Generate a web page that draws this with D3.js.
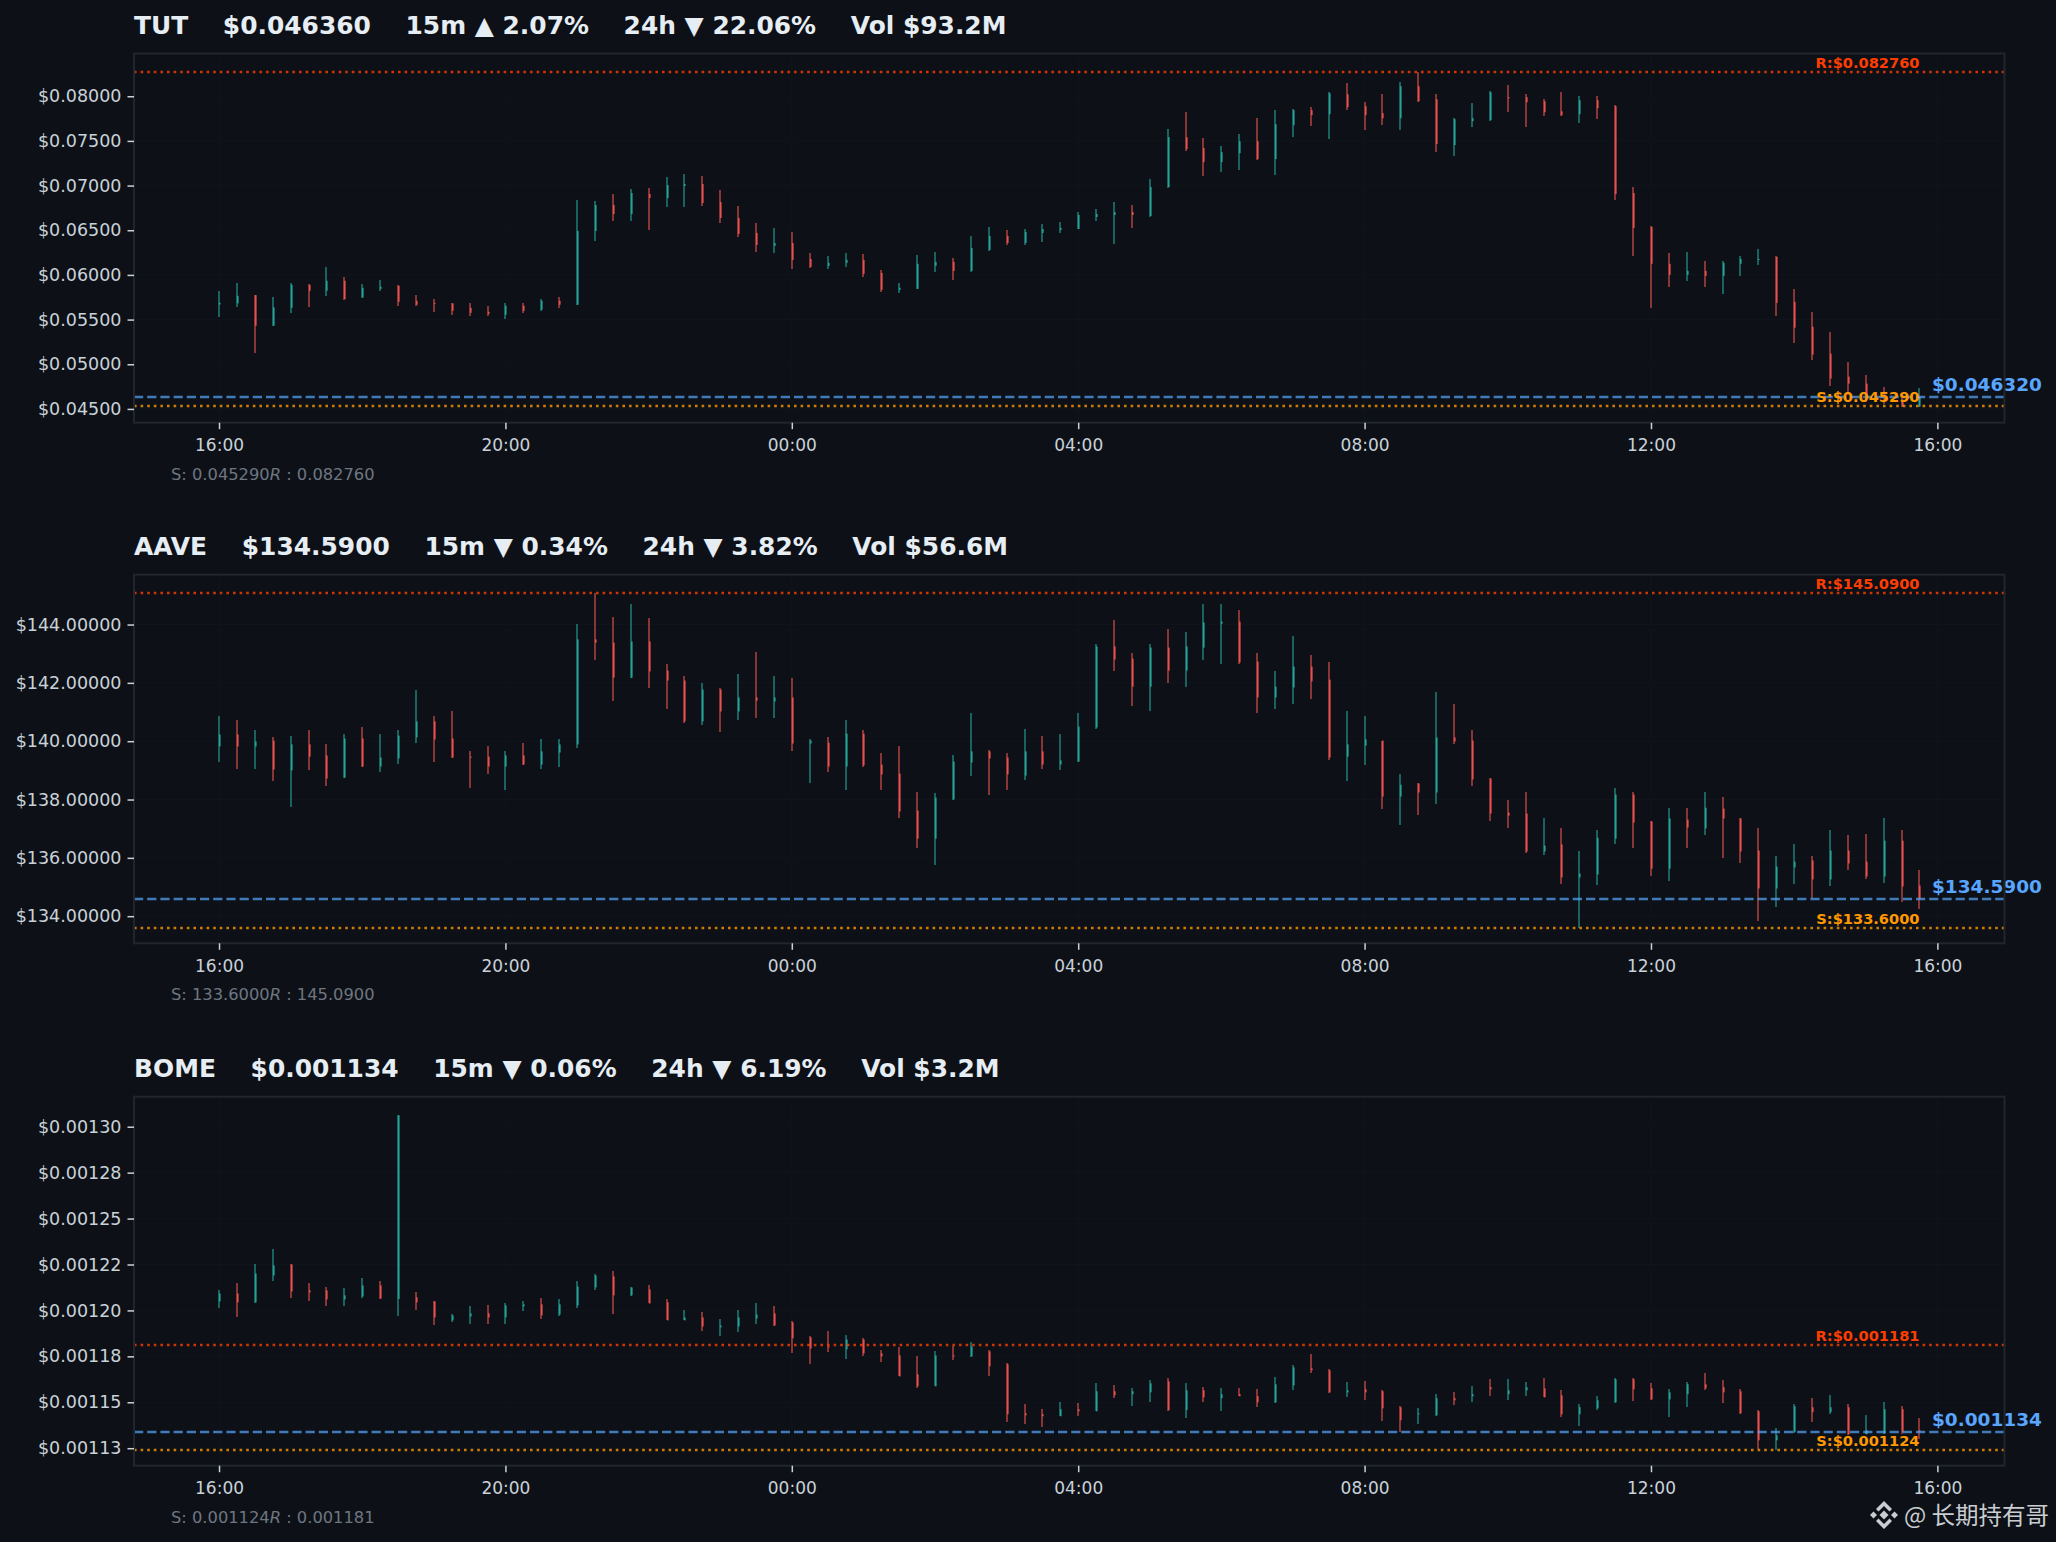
<!DOCTYPE html>
<html>
<head>
<meta charset="utf-8">
<style>
  html, body { margin: 0; padding: 0; background: #0d1117; }
  svg { display: block; }
  text { font-family: "DejaVu Sans", sans-serif; white-space: pre; }
</style>
<script src="https://cdn.jsdelivr.net/npm/d3@7"></script>
</head>
<body>
<div id="chart"></div>
<script>
// 15m candles, 96 per panel
const tutOpen = [0.05669,0.05681,0.05774,0.05431,0.05632,0.05889,0.05822,0.05934,0.05748,0.05844,0.05878,0.05710,0.05684,0.05681,0.05632,0.05587,0.05554,0.05654,0.05610,0.05710,0.05666,0.06492,0.06783,0.06682,0.06905,0.06861,0.06995,0.07017,0.06816,0.06637,0.06470,0.06325,0.06358,0.06179,0.06101,0.06135,0.06168,0.06023,0.05833,0.05844,0.06101,0.06146,0.06045,0.06280,0.06436,0.06358,0.06470,0.06503,0.06514,0.06648,0.06671,0.06704,0.06660,0.06984,0.07542,0.07419,0.07263,0.07363,0.07497,0.07296,0.07676,0.07844,0.07799,0.08022,0.07888,0.07810,0.07754,0.08112,0.07966,0.07453,0.07721,0.07732,0.07989,0.07989,0.07944,0.07832,0.07799,0.07955,0.07888,0.06917,0.06537,0.06124,0.06001,0.06045,0.05990,0.06124,0.06168,0.06202,0.05699,0.05420,0.05118,0.04861,0.04783,0.04660,0.04605,0.04526];
const tutHigh = [0.05822,0.05911,0.05774,0.05755,0.05911,0.05900,0.06090,0.05978,0.05900,0.05945,0.05889,0.05777,0.05733,0.05688,0.05688,0.05654,0.05688,0.05688,0.05733,0.05755,0.06838,0.06827,0.06905,0.06961,0.06972,0.07095,0.07129,0.07106,0.06950,0.06771,0.06581,0.06526,0.06481,0.06246,0.06213,0.06246,0.06235,0.06057,0.05911,0.06224,0.06258,0.06191,0.06436,0.06537,0.06503,0.06514,0.06570,0.06593,0.06704,0.06738,0.06816,0.06783,0.07073,0.07631,0.07821,0.07531,0.07441,0.07575,0.07754,0.07844,0.07855,0.07877,0.08045,0.08145,0.07933,0.08022,0.08156,0.08276,0.08022,0.07754,0.07922,0.08056,0.08123,0.08022,0.07966,0.08045,0.08000,0.08000,0.07899,0.06984,0.06548,0.06246,0.06258,0.06157,0.06157,0.06213,0.06291,0.06213,0.05844,0.05587,0.05364,0.05029,0.04884,0.04750,0.04649,0.04739];
const tutLow = [0.05532,0.05643,0.05122,0.05431,0.05576,0.05643,0.05766,0.05721,0.05744,0.05822,0.05654,0.05654,0.05587,0.05554,0.05543,0.05543,0.05509,0.05576,0.05599,0.05632,0.05666,0.06380,0.06604,0.06604,0.06503,0.06760,0.06760,0.06771,0.06581,0.06425,0.06258,0.06246,0.06068,0.06079,0.06068,0.06090,0.05978,0.05811,0.05800,0.05844,0.06034,0.05945,0.06034,0.06269,0.06336,0.06336,0.06369,0.06470,0.06514,0.06604,0.06347,0.06526,0.06648,0.06972,0.07386,0.07106,0.07151,0.07173,0.07285,0.07118,0.07542,0.07665,0.07520,0.07844,0.07620,0.07676,0.07620,0.07933,0.07374,0.07330,0.07654,0.07721,0.07821,0.07654,0.07777,0.07777,0.07698,0.07743,0.06838,0.06213,0.05632,0.05867,0.05934,0.05867,0.05788,0.05990,0.06112,0.05543,0.05241,0.05051,0.04761,0.04660,0.04575,0.04556,0.04519,0.04526];
const tutClose = [0.05688,0.05766,0.05431,0.05636,0.05889,0.05822,0.05934,0.05729,0.05856,0.05867,0.05699,0.05666,0.05673,0.05599,0.05576,0.05565,0.05654,0.05599,0.05710,0.05666,0.06492,0.06783,0.06682,0.06917,0.06861,0.07006,0.07017,0.06805,0.06637,0.06459,0.06336,0.06358,0.06168,0.06090,0.06135,0.06168,0.06012,0.05833,0.05856,0.06124,0.06146,0.06045,0.06302,0.06436,0.06358,0.06481,0.06514,0.06526,0.06671,0.06682,0.06704,0.06671,0.06984,0.07542,0.07408,0.07263,0.07374,0.07497,0.07296,0.07687,0.07844,0.07788,0.08033,0.07877,0.07788,0.07754,0.08112,0.07944,0.07464,0.07743,0.07754,0.08045,0.07978,0.07933,0.07821,0.07788,0.07955,0.07866,0.06905,0.06526,0.06124,0.06001,0.06045,0.05990,0.06135,0.06179,0.06179,0.05688,0.05409,0.05107,0.04839,0.04783,0.04660,0.04593,0.04526,0.04632];

const aaveOpen = [139.82,140.23,139.82,140.02,139.00,139.89,139.51,138.75,140.09,139.13,139.41,140.13,140.68,140.09,139.47,139.47,139.13,139.51,139.20,139.61,139.89,143.49,143.38,142.18,143.42,142.42,142.08,140.68,141.77,141.02,141.50,141.36,141.50,139.92,139.95,139.13,140.26,139.20,138.89,137.62,136.66,138.00,139.27,139.65,139.44,138.82,139.65,139.20,139.30,140.47,143.25,142.83,141.87,143.21,142.42,143.21,144.03,144.10,142.73,141.50,141.84,142.56,142.11,139.47,139.85,140.02,138.10,138.55,138.24,140.13,140.02,138.72,137.55,137.52,136.22,136.46,135.33,135.43,136.66,138.17,137.25,135.63,137.31,137.01,137.69,137.35,136.25,134.95,135.67,135.91,135.26,136.25,135.87,135.36,136.59,135.05];
const aaveHigh = [140.85,140.74,140.37,140.16,140.19,140.37,139.92,140.23,140.50,140.26,140.40,141.77,140.88,141.02,139.65,139.85,139.68,139.95,140.09,140.06,144.03,145.09,144.27,144.69,144.24,142.63,142.25,141.98,141.84,142.32,143.07,142.25,142.15,140.06,140.16,140.74,140.40,139.58,139.82,138.27,138.24,139.51,140.95,139.71,139.61,140.43,140.19,140.23,140.95,143.32,144.17,143.01,143.32,143.86,143.76,144.69,144.72,144.51,143.04,142.42,143.62,142.94,142.73,141.02,140.88,140.02,138.86,138.55,141.67,141.26,140.37,138.75,138.00,138.27,137.35,137.04,136.22,136.97,138.38,138.27,137.28,137.72,137.72,138.27,138.07,137.38,137.01,136.05,136.49,136.05,136.94,136.77,136.83,137.38,136.94,135.57];
const aaveLow = [139.27,139.03,139.06,138.65,137.76,139.00,138.45,138.75,139.13,138.96,139.23,139.95,139.27,139.41,138.41,138.89,138.34,139.20,139.06,139.13,139.75,142.80,141.39,142.15,141.81,141.12,140.64,140.54,140.33,140.74,140.78,140.78,139.68,138.58,138.96,138.31,139.13,138.34,137.38,136.35,135.74,137.97,138.79,138.17,138.31,138.68,139.03,139.00,139.27,140.43,142.42,141.19,141.05,142.01,141.87,142.80,142.66,142.66,140.98,141.09,141.29,141.43,139.37,138.62,139.17,137.66,137.14,137.48,137.83,139.92,138.45,137.28,137.01,136.15,136.11,135.12,133.61,135.08,136.49,136.35,135.39,135.19,136.35,136.80,135.98,135.81,133.82,134.33,135.12,134.64,135.05,135.57,135.29,135.15,134.47,134.23];
const aaveClose = [140.23,139.82,139.99,139.03,139.89,139.47,138.72,140.09,139.13,139.44,140.19,140.68,140.06,139.44,139.44,139.13,139.51,139.20,139.65,139.89,143.49,143.38,142.18,143.42,142.39,142.08,140.68,141.77,141.02,141.50,141.39,141.50,139.92,140.02,139.13,140.26,139.17,138.86,137.59,136.66,138.07,139.30,139.65,139.41,138.86,139.65,139.20,139.34,140.50,143.25,142.80,141.87,143.21,142.42,143.25,144.07,144.10,142.70,141.50,141.87,142.56,142.05,139.44,139.89,140.06,138.10,138.51,138.24,140.13,139.99,138.69,137.52,137.45,136.22,136.42,135.33,135.46,136.69,138.17,137.21,135.63,137.35,137.04,137.72,137.35,136.22,134.95,135.70,135.87,135.26,136.25,135.81,135.36,136.59,135.02,134.59];

const bomeOpen = [0.0012049,0.0012092,0.0012044,0.0012190,0.0012250,0.0012109,0.0012109,0.0012060,0.0012076,0.0012136,0.0012062,0.0012071,0.0012049,0.0011946,0.0011967,0.0011984,0.0011962,0.0012022,0.0012033,0.0011978,0.0012027,0.0012125,0.0012185,0.0012082,0.0012114,0.0012044,0.0011946,0.0011962,0.0011908,0.0011913,0.0011956,0.0011984,0.0011935,0.0011853,0.0011804,0.0011788,0.0011842,0.0011766,0.0011755,0.0011652,0.0011587,0.0011755,0.0011750,0.0011777,0.0011707,0.0011440,0.0011435,0.0011424,0.0011462,0.0011451,0.0011560,0.0011544,0.0011554,0.0011614,0.0011457,0.0011565,0.0011522,0.0011544,0.0011533,0.0011500,0.0011592,0.0011685,0.0011674,0.0011554,0.0011571,0.0011560,0.0011473,0.0011435,0.0011429,0.0011522,0.0011533,0.0011582,0.0011544,0.0011565,0.0011576,0.0011538,0.0011435,0.0011467,0.0011500,0.0011625,0.0011576,0.0011516,0.0011544,0.0011598,0.0011582,0.0011560,0.0011451,0.0011293,0.0011337,0.0011473,0.0011446,0.0011473,0.0011326,0.0011330,0.0011462,0.0011347];
const bomeHigh = [0.0012109,0.0012152,0.0012255,0.0012337,0.0012255,0.0012152,0.0012125,0.0012120,0.0012179,0.0012158,0.0013065,0.0012098,0.0012054,0.0011978,0.0012022,0.0012027,0.0012038,0.0012049,0.0012065,0.0012060,0.0012158,0.0012196,0.0012212,0.0012130,0.0012141,0.0012060,0.0012000,0.0011989,0.0011951,0.0012000,0.0012038,0.0012022,0.0011940,0.0011859,0.0011886,0.0011864,0.0011848,0.0011783,0.0011799,0.0011750,0.0011777,0.0011804,0.0011826,0.0011783,0.0011712,0.0011489,0.0011462,0.0011500,0.0011495,0.0011603,0.0011592,0.0011576,0.0011620,0.0011630,0.0011603,0.0011582,0.0011576,0.0011576,0.0011571,0.0011636,0.0011701,0.0011761,0.0011679,0.0011609,0.0011614,0.0011565,0.0011478,0.0011467,0.0011544,0.0011554,0.0011587,0.0011625,0.0011625,0.0011609,0.0011630,0.0011565,0.0011489,0.0011533,0.0011630,0.0011630,0.0011603,0.0011571,0.0011609,0.0011658,0.0011620,0.0011571,0.0011457,0.0011359,0.0011489,0.0011522,0.0011538,0.0011489,0.0011429,0.0011500,0.0011478,0.0011413];
const bomeLow = [0.0012011,0.0011962,0.0012038,0.0012158,0.0012065,0.0012054,0.0012022,0.0012022,0.0012065,0.0012060,0.0011967,0.0012005,0.0011918,0.0011935,0.0011924,0.0011924,0.0011924,0.0011995,0.0011951,0.0011967,0.0012011,0.0012109,0.0011978,0.0012076,0.0012038,0.0011946,0.0011946,0.0011886,0.0011859,0.0011880,0.0011924,0.0011913,0.0011766,0.0011707,0.0011772,0.0011734,0.0011750,0.0011717,0.0011641,0.0011576,0.0011587,0.0011728,0.0011745,0.0011641,0.0011391,0.0011380,0.0011364,0.0011424,0.0011424,0.0011451,0.0011522,0.0011478,0.0011500,0.0011451,0.0011413,0.0011500,0.0011451,0.0011533,0.0011473,0.0011495,0.0011565,0.0011658,0.0011549,0.0011527,0.0011511,0.0011397,0.0011337,0.0011380,0.0011424,0.0011484,0.0011500,0.0011533,0.0011511,0.0011533,0.0011527,0.0011419,0.0011370,0.0011457,0.0011495,0.0011505,0.0011511,0.0011419,0.0011473,0.0011565,0.0011495,0.0011435,0.0011245,0.0011239,0.0011332,0.0011391,0.0011435,0.0011321,0.0011326,0.0011326,0.0011326,0.0011299];
const bomeClose = [0.0012092,0.0012044,0.0012201,0.0012245,0.0012103,0.0012098,0.0012060,0.0012082,0.0012136,0.0012065,0.0013062,0.0012044,0.0011962,0.0011973,0.0011984,0.0011962,0.0012027,0.0012033,0.0011973,0.0012033,0.0012130,0.0012190,0.0012082,0.0012125,0.0012038,0.0011946,0.0011962,0.0011913,0.0011918,0.0011962,0.0011978,0.0011918,0.0011848,0.0011793,0.0011799,0.0011842,0.0011766,0.0011750,0.0011641,0.0011587,0.0011755,0.0011750,0.0011804,0.0011696,0.0011435,0.0011429,0.0011424,0.0011462,0.0011451,0.0011560,0.0011538,0.0011560,0.0011603,0.0011457,0.0011565,0.0011527,0.0011544,0.0011533,0.0011500,0.0011598,0.0011690,0.0011674,0.0011554,0.0011565,0.0011554,0.0011467,0.0011402,0.0011440,0.0011522,0.0011511,0.0011544,0.0011571,0.0011565,0.0011582,0.0011527,0.0011435,0.0011473,0.0011511,0.0011625,0.0011571,0.0011516,0.0011554,0.0011598,0.0011576,0.0011554,0.0011440,0.0011293,0.0011321,0.0011478,0.0011446,0.0011473,0.0011326,0.0011348,0.0011462,0.0011337,0.0011340];

const tutTicks = [0.045, 0.05, 0.055, 0.06, 0.065, 0.07, 0.075, 0.08];
const tutTickLabels = ["$0.04500", "$0.05000", "$0.05500", "$0.06000", "$0.06500", "$0.07000", "$0.07500", "$0.08000"];
const aaveTicks = [134, 136, 138, 140, 142, 144];
const aaveTickLabels = ["$134.00000", "$136.00000", "$138.00000", "$140.00000", "$142.00000", "$144.00000"];
const bomeTicks = [0.001125, 0.00115, 0.001175, 0.0012, 0.001225, 0.00125, 0.001275, 0.0013];
const bomeTickLabels = ["$0.00113", "$0.00115", "$0.00118", "$0.00120", "$0.00122", "$0.00125", "$0.00128", "$0.00130"];
const timeTickLabels = ["16:00", "20:00", "00:00", "04:00", "08:00", "12:00", "16:00"];

const panels = [
  { title: "TUT    $0.046360    15m ▲ 2.07%    24h ▼ 22.06%    Vol $93.2M", open: tutOpen, high: tutHigh, low: tutLow, close: tutClose,
    support: 0.04529, resist: 0.08276, last: 0.04632, digits: 6, ticks: tutTicks, tickLabels: tutTickLabels },
  { title: "AAVE    $134.5900    15m ▼ 0.34%    24h ▼ 3.82%    Vol $56.6M", open: aaveOpen, high: aaveHigh, low: aaveLow, close: aaveClose,
    support: 133.6, resist: 145.09, last: 134.59, digits: 4, ticks: aaveTicks, tickLabels: aaveTickLabels },
  { title: "BOME    $0.001134    15m ▼ 0.06%    24h ▼ 6.19%    Vol $3.2M", open: bomeOpen, high: bomeHigh, low: bomeLow, close: bomeClose,
    support: 0.001124, resist: 0.001181, last: 0.001134, digits: 6, ticks: bomeTicks, tickLabels: bomeTickLabels },
];

const width = 2056, height = 1542;
const boxes = [[53.5, 422.7], [574.7, 943.3], [1096.7, 1465.7]];
const left = 134, right = 2004.5;
const up = "#26a69a", down = "#ef5350";

const svg = d3.select("#chart").append("svg")
  .attr("width", width).attr("height", height)
  .attr("viewBox", [0, 0, width, height]);

svg.append("rect").attr("width", width).attr("height", height).attr("fill", "#0d1117");

const start = Date.UTC(2025, 0, 1, 16, 0);
const times = d3.range(96).map(i => new Date(start + i * 15 * 60000));
const pad = (times[95] - times[0]) * 0.05;
const x = d3.scaleUtc()
  .domain([+times[0] - pad, +times[95] + pad])
  .range([left, right]);
const timeTicks = timeTickLabels.map((d, i) => new Date(start + i * 4 * 3600000));

panels.forEach((p, n) => {
  const [top, bottom] = boxes[n];
  const lo = d3.min([p.support, ...p.low]), hi = d3.max([p.resist, ...p.high]);
  const y = d3.scaleLinear()
    .domain([lo - (hi - lo) * 0.05, hi + (hi - lo) * 0.05])
    .range([bottom + 1.3, top + 1.3]);
  const candles = times.map((t, i) => ({ t, o: p.open[i], h: p.high[i], l: p.low[i], c: p.close[i] }));

  const g = svg.append("g");

  // faint grid
  g.append("g").selectAll("line").data(p.ticks).join("line")
    .attr("x1", left).attr("x2", right)
    .attr("y1", d => y(d)).attr("y2", d => y(d))
    .attr("stroke", "#10151c").attr("stroke-width", 1);
  g.append("g").selectAll("line").data(timeTicks).join("line")
    .attr("x1", d => x(d)).attr("x2", d => x(d))
    .attr("y1", top).attr("y2", bottom)
    .attr("stroke", "#10151c").attr("stroke-width", 1);

  // wicks then bodies, snapped to the pixel grid
  g.append("g").attr("shape-rendering", "crispEdges").selectAll("rect").data(candles).join("rect")
    .attr("x", d => Math.round(x(d.t)) - 1)
    .attr("width", 2)
    .attr("y", d => y(d.h))
    .attr("height", d => y(d.l) - y(d.h))
    .attr("fill", d => d.c >= d.o ? up : down)
    .attr("fill-opacity", 0.55);
  g.append("g").selectAll("rect").data(candles).join("rect")
    .attr("x", d => Math.round(x(d.t)))
    .attr("width", 1.6)
    .attr("y", d => y(Math.max(d.o, d.c)))
    .attr("height", d => Math.max(Math.abs(y(d.o) - y(d.c)), 1))
    .attr("fill", d => d.c >= d.o ? up : down)
    .attr("fill-opacity", 0.95);

  // support, resistance, last price
  const hline = (v, color, dash, op) => g.append("line")
    .attr("x1", left).attr("x2", right)
    .attr("y1", Math.round(y(v))).attr("y2", Math.round(y(v)))
    .attr("stroke", color).attr("stroke-width", 2.4)
    .attr("stroke-dasharray", dash).attr("stroke-opacity", op);
  hline(p.resist, "#ff3d00", "2.6 4", 0.8);
  hline(p.support, "#ff9800", "2.6 4", 0.8);
  hline(p.last, "#58a6ff", "9.2 4", 0.7);

  const endX = x(times[95]);
  const fmt = v => v.toFixed(p.digits);
  g.append("text").attr("x", endX).attr("y", y(p.resist) - 4)
    .attr("text-anchor", "end").attr("font-size", 14.6).attr("font-weight", "bold")
    .attr("fill", "#ff3d00")
    .text("R:$" + fmt(p.resist));
  g.append("text").attr("x", endX).attr("y", y(p.support) - 4)
    .attr("text-anchor", "end").attr("font-size", 14.6).attr("font-weight", "bold")
    .attr("fill", "#ff9800")
    .text("S:$" + fmt(p.support));
  g.append("text").attr("x", endX + 12.5).attr("y", y(p.last) - 6)
    .attr("font-size", 18.5).attr("font-weight", "bold").attr("fill", "#58a6ff")
    .text("$" + fmt(p.last));

  // frame
  g.append("rect").attr("x", left).attr("y", top)
    .attr("width", right - left).attr("height", bottom - top)
    .attr("fill", "none").attr("stroke", "#21262d").attr("stroke-width", 2);

  // axes
  const xAxis = g.append("g").attr("transform", `translate(0,${bottom})`)
    .call(d3.axisBottom(x).tickValues(timeTicks).tickFormat((d, i) => timeTickLabels[i]).tickSize(6.5).tickPadding(10));
  const yAxis = g.append("g").attr("transform", `translate(${left},0)`)
    .call(d3.axisLeft(y).tickValues(p.ticks).tickFormat((d, i) => p.tickLabels[i]).tickSize(6.5).tickPadding(6));
  [xAxis, yAxis].forEach(a => {
    a.select(".domain").remove();
    a.selectAll("line").attr("stroke", "#c9d1d9").attr("stroke-width", 1.5);
    a.selectAll("text").attr("fill", "#c9d1d9").attr("font-size", a === yAxis ? 17.5 : 17)
      .style("font-family", '"DejaVu Sans"');
  });

  // title
  g.append("text").attr("x", left).attr("y", top - 20)
    .attr("font-size", 24.9).attr("font-weight", "bold").attr("fill", "#e6edf3")
    .text(p.title);

  // caption with the italic R of the original
  const cap = g.append("text").attr("x", 171).attr("y", bottom + 57)
    .attr("font-size", 16.3).attr("fill", "#6e7681");
  cap.append("tspan").text("S: " + fmt(p.support));
  cap.append("tspan").attr("font-style", "italic").text("R");
  cap.append("tspan").text(" : " + fmt(p.resist));
});

// watermark
const mark = svg.append("g").attr("transform", "translate(1884,1515)").attr("fill", "#c9cdd1");
const diamond = (cx, cy, r) => `M${cx},${cy - r}L${cx + r},${cy}L${cx},${cy + r}L${cx - r},${cy}Z`;
mark.append("path").attr("d", diamond(0, 0, 4.5));
mark.append("path").attr("d", diamond(-10.5, 0, 3.5));
mark.append("path").attr("d", diamond(10.5, 0, 3.5));
mark.append("path").attr("d", "M0,-14L8,-6L5.5,-3.5L0,-9L-5.5,-3.5L-8,-6Z");
mark.append("path").attr("d", "M0,14L8,6L5.5,3.5L0,9L-5.5,3.5L-8,6Z");
svg.append("text").attr("x", 1904).attr("y", 1524)
  .attr("font-size", 23.5).attr("fill", "#c9cdd1")
  .attr("style", 'font-family:"Noto Sans CJK SC"')
  .text("@ 长期持有哥");
</script>
</body>
</html>
